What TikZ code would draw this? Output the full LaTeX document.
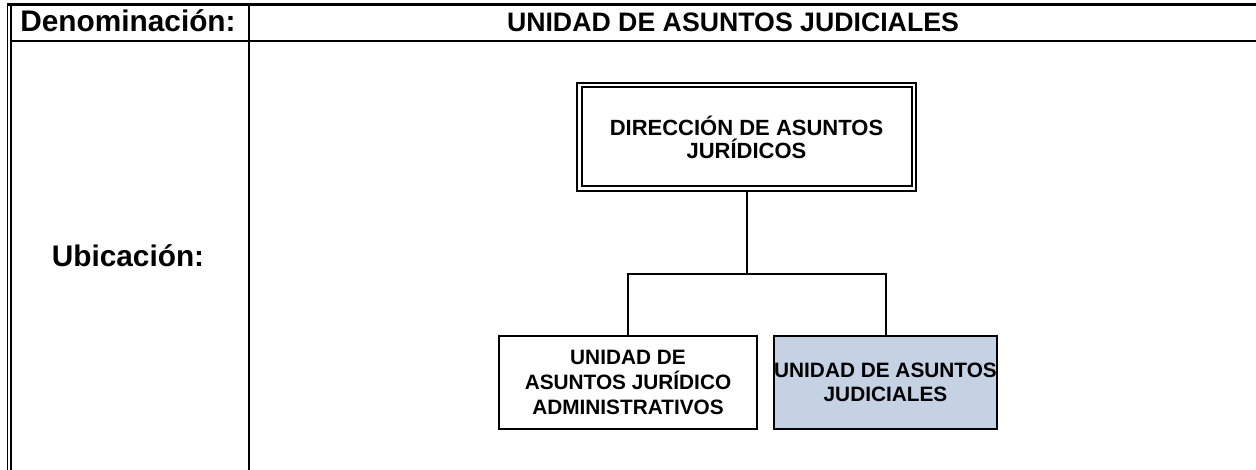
\documentclass[tikz,border=0pt]{standalone}
\usepackage{fontspec}
\setmainfont{Liberation Sans}
\definecolor{UnidadAzul}{HTML}{C4D2E4}

\begin{document}
\begin{tikzpicture}[x=1pt, y=-1pt,
    caja/.style={draw, line width=1.8pt, align=center, inner sep=0pt, minimum height=93pt, font=\bfseries\fontsize{20.8}{25}\selectfont},
    etiqueta/.style={anchor=base, font=\bfseries\fontsize{29.8}{32}\selectfont},
    linea/.style={line width=2pt}]
    \useasboundingbox (0,0) rectangle (1256,470);

    % Marco de la tabla (doble a la izquierda, cabecera arriba)
    \draw[line width=1.5pt] (7.5,3) -- (7.5,470);
    \draw[line width=1.5pt] (10.8,5) -- (10.8,470);
    \draw[line width=3pt] (6.75,4.2) -- (1256,4.2);
    \draw[line width=2pt] (10,41.5) -- (1256,41.5);
    \draw[line width=2pt] (249,4) -- (249,470);

    % Textos de la tabla
    \node[etiqueta] (denom) at (128,32) {Denominación:};
    \node[etiqueta, font=\bfseries\fontsize{26.7}{30}\selectfont] (titulo) at (733,32) {UNIDAD DE ASUNTOS JUDICIALES};
    \node[etiqueta] (ubic) at (128,267) {Ubicación:};

    % Organigrama
    \node[caja, double, line width=2pt, double distance=2.5pt, minimum width=334.5pt, minimum height=103.5pt, font=\bfseries\fontsize{22}{23}\selectfont] (dir) at (746.5,137) {DIRECCIÓN DE ASUNTOS\\JURÍDICOS};
    \node[caja, minimum width=258pt] (uja) at (628,382.5) {UNIDAD DE\\ASUNTOS JURÍDICO\\ADMINISTRATIVOS};
    \node[caja, fill=UnidadAzul, minimum width=223pt, font=\bfseries\fontsize{20.8}{24}\selectfont] (ujud) at (885.5,382.5) {UNIDAD DE ASUNTOS\\JUDICIALES};

    % Conectores
    \coordinate (bus) at (747,274);
    \draw[linea] (dir.south) -- (dir.south |- bus);
    \draw[linea] (uja.north) |- (bus) -| (ujud.north);
\end{tikzpicture}
\end{document}
